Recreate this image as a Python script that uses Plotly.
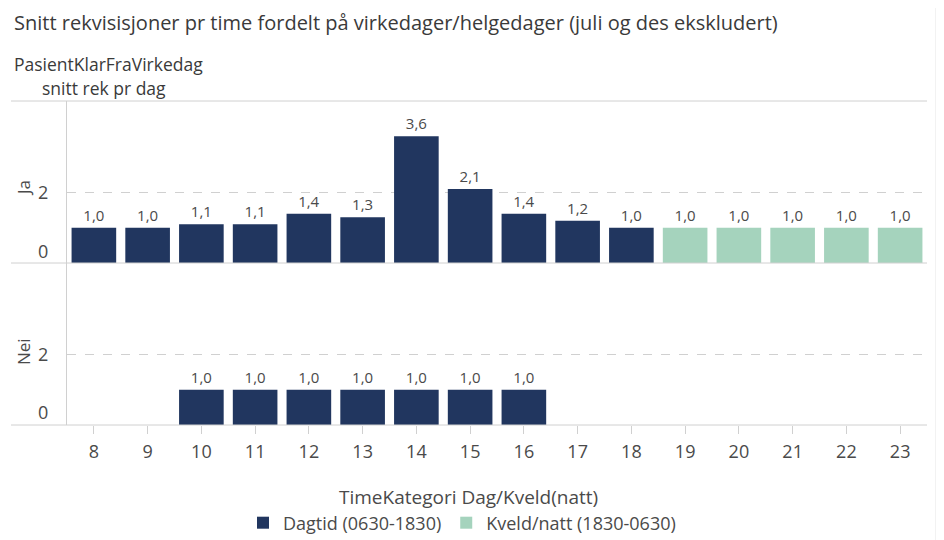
import plotly.graph_objects as go
from plotly.subplots import make_subplots

hours = [str(h) for h in range(8, 24)]

ja_dag_x = ["8", "9", "10", "11", "12", "13", "14", "15", "16", "17", "18"]
ja_dag_y = [1.0, 1.0, 1.1, 1.1, 1.4, 1.3, 3.6, 2.1, 1.4, 1.2, 1.0]
ja_kveld_x = ["19", "20", "21", "22", "23"]
ja_kveld_y = [1.0, 1.0, 1.0, 1.0, 1.0]
nei_dag_x = ["10", "11", "12", "13", "14", "15", "16"]
nei_dag_y = [1.0, 1.0, 1.0, 1.0, 1.0, 1.0, 1.0]
y_tickvals = [0, 2]
y_ticktext = ["", "2"]

NAVY = "#21365F"
GREEN = "#A5D3BD"
TXT = "#4A4A4A"
LINE = "#D0D0D0"
FONT = "Open Sans"

OFF = 8  # page body margin
W, H = 944 - OFF, 540 - OFF
# plot area in screen pixels (reference)
SL, SR, ST, SB = 67, 927, 101, 425
L, T = SL - OFF, ST - OFF
PW, PH = SR - SL, SB - ST
R = W - L - PW
B = H - T - PH

fig = make_subplots(rows=2, cols=1, shared_xaxes=True, vertical_spacing=0)

common = dict(
    texttemplate="%{y:.1f}", textposition="outside", cliponaxis=False,
    textfont=dict(size=15, color=TXT, family=FONT),
    marker_line_width=0,
)
fig.add_trace(go.Bar(x=ja_dag_x, y=ja_dag_y, name="Dagtid (0630-1830)", marker_color=NAVY,
                     legendgroup="dag", **common), row=1, col=1)
fig.add_trace(go.Bar(x=ja_kveld_x, y=ja_kveld_y, name="Kveld/natt (1830-0630)", marker_color=GREEN,
                     legendgroup="kveld", **common), row=1, col=1)
fig.add_trace(go.Bar(x=nei_dag_x, y=nei_dag_y, name="Dagtid (0630-1830)", marker_color=NAVY,
                     legendgroup="dag", showlegend=False, **common), row=2, col=1)

yax = dict(range=[0, 4.6], tickvals=y_tickvals, ticktext=y_ticktext,
           showgrid=True, gridcolor=LINE, griddash="dash",
           zeroline=False, showline=True, linecolor=LINE, linewidth=1,
           ticks="outside", ticklen=9, tickcolor="rgba(0,0,0,0)", ticklabelstandoff=5,
           tickfont=dict(size=18, color=TXT, family=FONT), fixedrange=True)
fig.update_yaxes(**yax)

fig.update_xaxes(type="category", categoryorder="array", categoryarray=hours,
                 showgrid=False, showline=False, zeroline=False)
fig.update_xaxes(ticks="outside", ticklen=8, tickcolor=LINE, tickwidth=1, ticklabelstandoff=2,
                 tickfont=dict(size=18, color=TXT, family=FONT), row=2, col=1)


def px_x(px):
    return (px - OFF - L) / PW


def px_y(py):
    return 1 - (py - OFF - T) / PH


fig.update_layout(
    width=W, height=H, barmode="relative", bargap=0.17,
    separators=", ",
    plot_bgcolor="white", paper_bgcolor="white",
    margin=dict(l=L, r=R, t=T, b=B, autoexpand=False),
    font=dict(family=FONT, color=TXT),
    showlegend=True,
    legend=dict(orientation="h", x=px_x(462), xanchor="center",
                y=px_y(523), yanchor="middle",
                font=dict(size=18, color=TXT, family=FONT),
                traceorder="normal"),
)

shapes = []
for py in (ST, (ST + SB) / 2, SB):
    shapes.append(dict(type="line", xref="paper", yref="paper", x0=px_x(11), x1=1,
                       y0=px_y(py), y1=px_y(py), line=dict(color=LINE, width=1)))
shapes.append(dict(type="rect", xref="paper", yref="paper", x0=px_x(935), x1=px_x(944),
                   y0=px_y(0), y1=px_y(540), fillcolor="#F2F2F2", line=dict(width=0), layer="below"))
fig.update_layout(shapes=shapes)

anns = [
    dict(text="Snitt rekvisisjoner pr time fordelt på virkedager/helgedager (juli og des ekskludert)",
         x=px_x(12), y=px_y(22), xanchor="left", yanchor="middle", font=dict(size=20, color="#3A3A3A")),
    dict(text="PasientKlarFraVirkedag", x=px_x(12), y=px_y(64), xanchor="left", yanchor="middle",
         font=dict(size=17.5, color="#3A3A3A")),
    dict(text="snitt rek pr dag", x=px_x(40), y=px_y(88), xanchor="left", yanchor="middle",
         font=dict(size=17.5, color="#3A3A3A")),
    dict(text="Ja", x=px_x(23), y=px_y(188), xanchor="center", yanchor="middle", textangle=-90,
         font=dict(size=17, color=TXT)),
    dict(text="Nei", x=px_x(23), y=px_y(352), xanchor="center", yanchor="middle", textangle=-90,
         font=dict(size=17, color=TXT)),
    dict(text="0", x=px_x(43), y=px_y(251), xanchor="center", yanchor="middle",
         font=dict(size=18, color=TXT)),
    dict(text="0", x=px_x(43), y=px_y(412), xanchor="center", yanchor="middle",
         font=dict(size=18, color=TXT)),
    dict(text="TimeKategori Dag/Kveld(natt)", x=px_x(468), y=px_y(497), xanchor="center",
         yanchor="middle", font=dict(size=19, color=TXT)),
]
for a in anns:
    a.update(xref="paper", yref="paper", showarrow=False)
    a["font"]["family"] = FONT
fig.update_layout(annotations=anns)

fig.write_html("out.html")
